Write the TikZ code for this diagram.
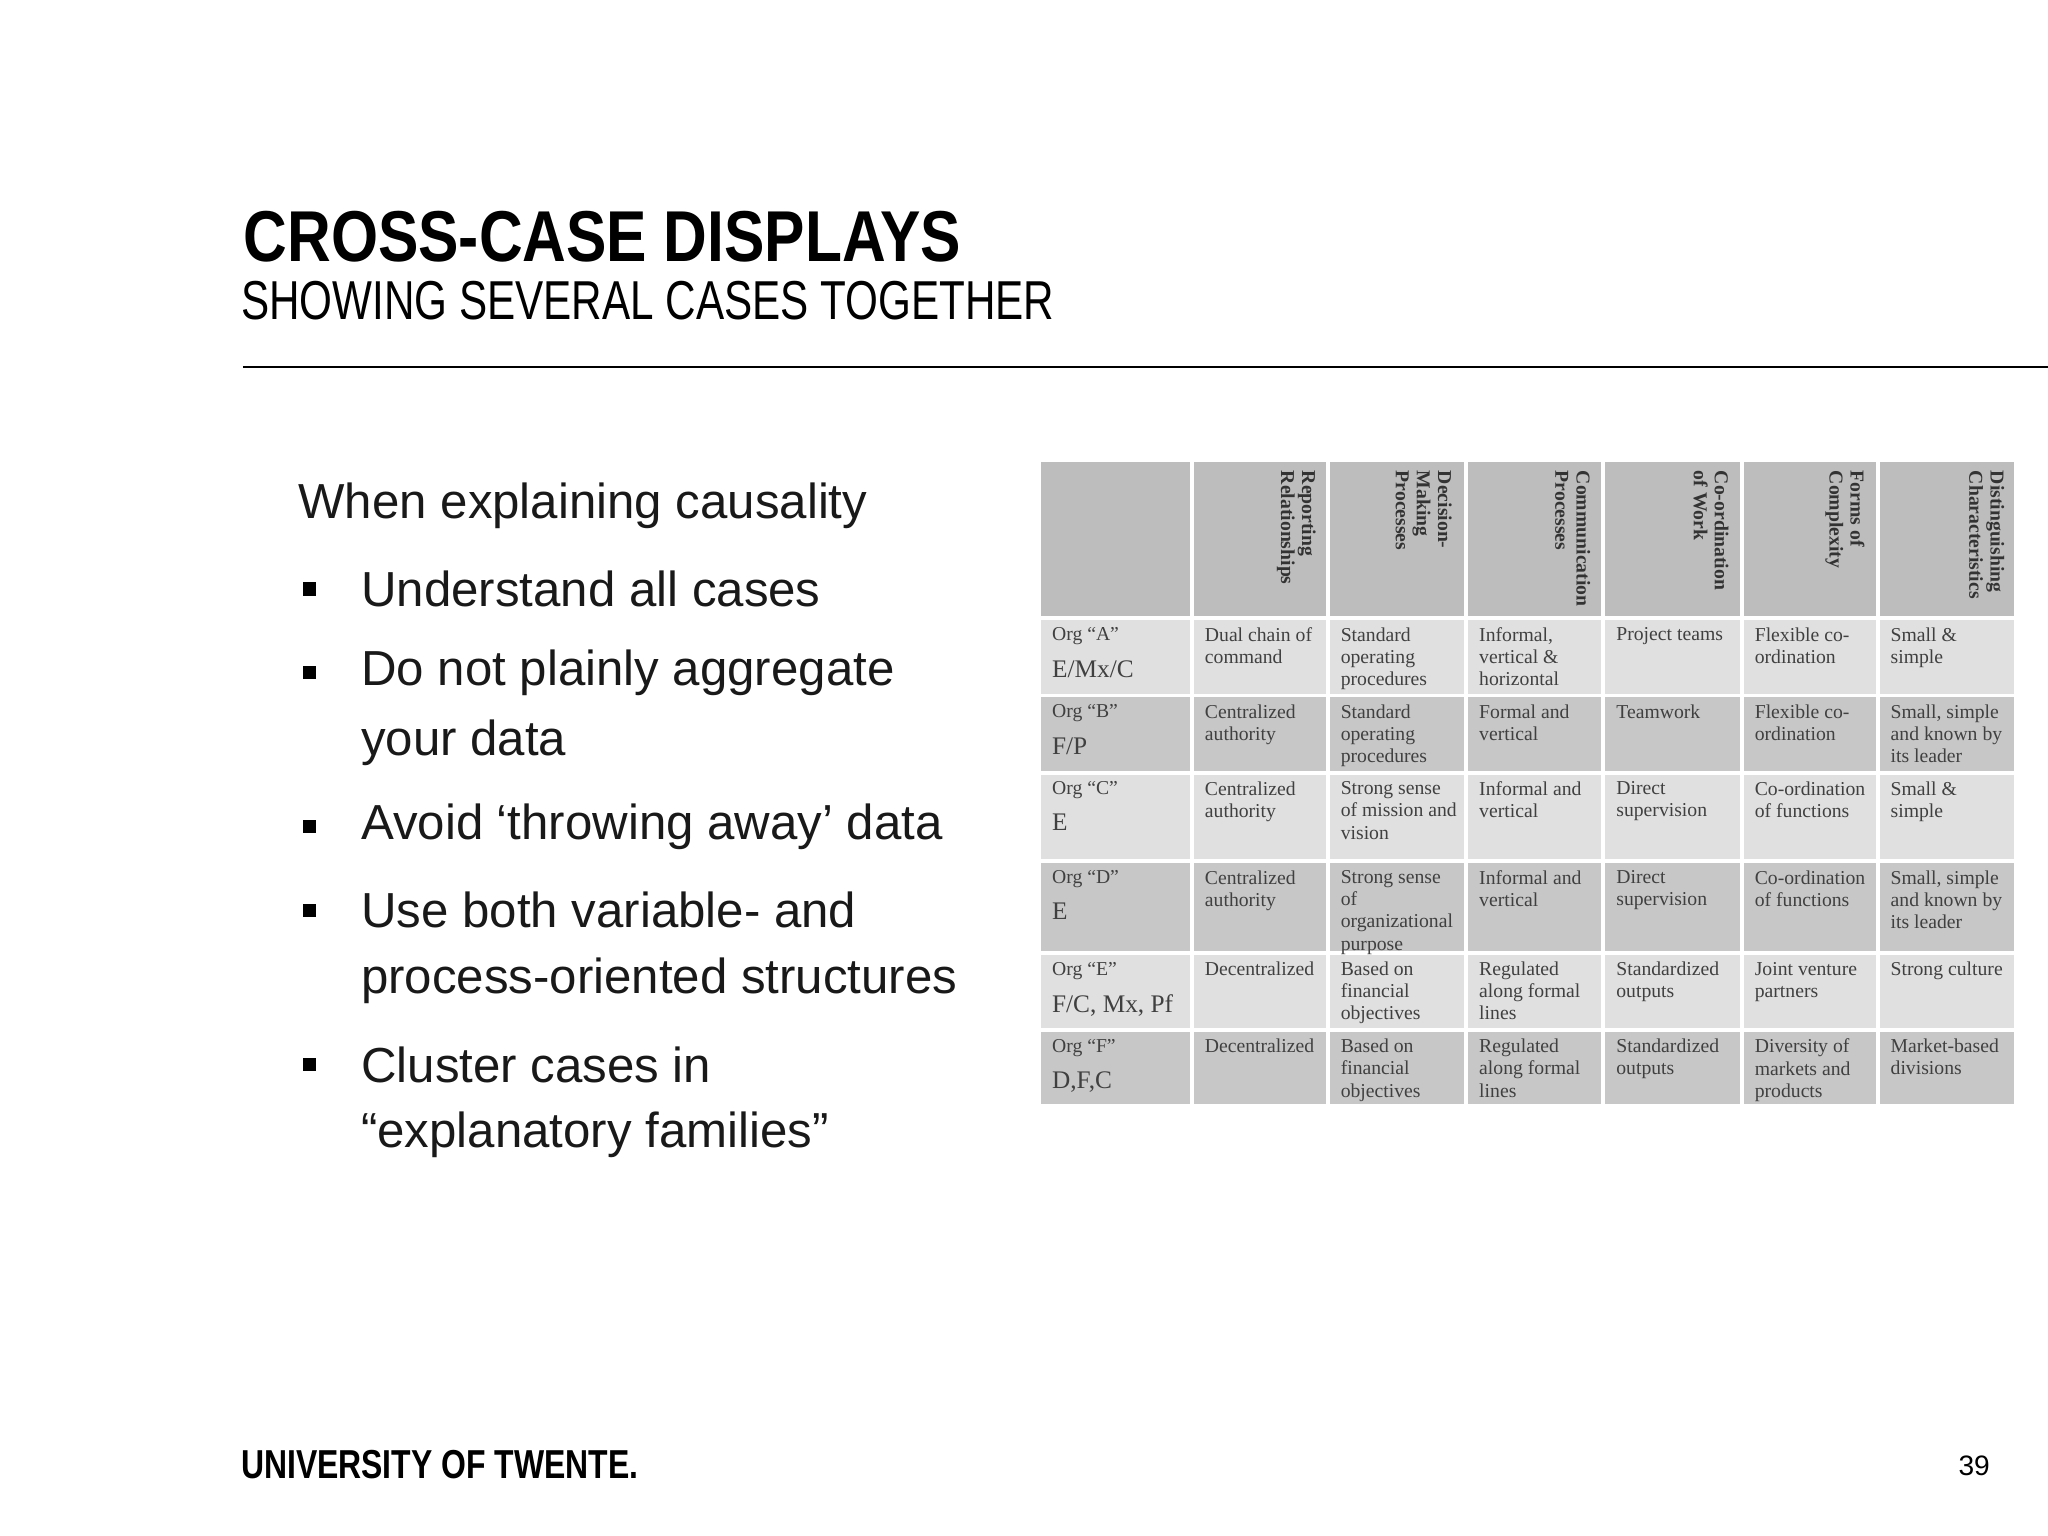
\documentclass[tikz,border=0pt]{standalone}
\usepackage{fontspec}
\setmainfont{Liberation Sans}
\newfontfamily\cond[FakeStretch=0.84]{Liberation Sans}
\newfontfamily\condb[FakeStretch=0.77]{Liberation Sans}
\newfontfamily\condc[FakeStretch=0.79]{Liberation Sans}
\newfontfamily\tser{Liberation Serif}
\begin{document}
\begin{tikzpicture}[x=0.013061cm,y=-0.013061cm,
  cell/.style={anchor=north west,inner sep=0pt,font=\tser\fontsize{5.6}{6.3}\selectfont,align=left,text=black!75},
  hdr/.style={anchor=north west,rotate=-90,inner sep=0pt,font=\tser\bfseries\fontsize{5.6}{6}\selectfont,align=left,text=black!80},
  bl/.style={anchor=west,inner sep=0pt,font=\fontsize{14}{16}\selectfont,text=black!90}]
\useasboundingbox (0,0) rectangle (1568,1176);
\node[anchor=base west,inner sep=0pt,font=\cond\bfseries\fontsize{20.5}{24}\selectfont] (t) at (186,200) {CROSS-CASE DISPLAYS};
\node[anchor=base west,inner sep=0pt,font=\condb\fontsize{15.6}{18}\selectfont] (st) at (184,245) {SHOWING SEVERAL CASES TOGETHER};
\coordinate (l1) at (186,281); \coordinate (l2) at (1568,281);
\draw[line width=0.8pt] (l1) -- (l2);
% body
\node[bl] (w) at (228,387) {When explaining causality};
\foreach \y/\t/\n in {451/Understand all cases/b1, 515/Do not plainly aggregate/b2, 569/your data/b3, 633/Avoid ‘throwing away’ data/b4, 697/Use both variable- and/b5, 751/process-oriented structures/b6, 815/Cluster cases in/b7, 869/“explanatory families”/b8}
  \node[bl] (\n) at (276,\y) {\t};
\foreach \y/\n in {451/s1,515/s2,633/s4,697/s5,815/s7}
  \node[fill=black,minimum size=3.8pt,inner sep=0pt] (\n) at (237,\y) {};
% table backgrounds
\def\cx{{797,914,1018,1124,1229,1335,1439,1545}}
\def\ry{{354,475,534,593,661,731,790,848}}
\foreach \r in {0,...,6}{
  \foreach \c in {0,...,6}{
    \pgfmathsetmacro\xa{\cx[\c]}\pgfmathsetmacro\xb{\cx[\c+1]-3}
    \pgfmathsetmacro\ya{\ry[\r]}\pgfmathsetmacro\yb{\ry[\r+1]-3}
    \pgfmathparse{int(\r==0?26:(mod(\r,2)==1?12:22))}
    \fill[black!\pgfmathresult] (\xa,\ya) rectangle (\xb,\yb);
  }}
% headers
\node[hdr] (h1) at (1008,360) {Reporting\\Relationships};
\node[hdr] (h2) at (1112,360) {Decision-\\Making\\Processes};
\node[hdr] (h3) at (1218,360) {Communication\\Processes};
\node[hdr] (h4) at (1324,360) {Co-ordination\\of Work};
\node[hdr] (h5) at (1428,360) {Forms of\\Complexity};
\node[hdr] (h6) at (1535,360) {Distinguishing\\Characteristics};
% first column
\foreach \y/\a/\b/\n in {480/A/E\slash Mx\slash C/ra, 539/B/F\slash P/rb, 598/C/E/rc, 666/D/E/rd, 736/E/{F/C, Mx, Pf}/re, 795/F/{D,F,C}/rf}{
  \node[cell] (\n1) at (805,\y) {Org “\a”};
  \node[cell,font=\tser\fontsize{7.2}{8}\selectfont] (\n2) at (805,\y+25) {\b};
}
\foreach \c/\t in {1/{Dual chain of\\command},2/{Standard\\operating\\procedures},3/{Informal,\\vertical \&\\horizontal},4/{Project teams},5/{Flexible co-\\ordination},6/{Small \&\\simple}}{
  \pgfmathsetmacro\xx{\cx[\c]+8}\node[cell] (a\c) at (\xx,480) {\t};}
\foreach \c/\t in {1/{Centralized\\authority},2/{Standard\\operating\\procedures},3/{Formal and\\vertical},4/{Teamwork},5/{Flexible co-\\ordination},6/{Small, simple\\and known by\\its leader}}{
  \pgfmathsetmacro\xx{\cx[\c]+8}\node[cell] (b\c) at (\xx,539) {\t};}
\foreach \c/\t in {1/{Centralized\\authority},2/{Strong sense\\of mission and\\vision},3/{Informal and\\vertical},4/{Direct\\supervision},5/{Co-ordination\\of functions},6/{Small \&\\simple}}{
  \pgfmathsetmacro\xx{\cx[\c]+8}\node[cell] (c\c) at (\xx,598) {\t};}
\foreach \c/\t in {1/{Centralized\\authority},2/{Strong sense\\of\\organizational\\purpose},3/{Informal and\\vertical},4/{Direct\\supervision},5/{Co-ordination\\of functions},6/{Small, simple\\and known by\\its leader}}{
  \pgfmathsetmacro\xx{\cx[\c]+8}\node[cell] (d\c) at (\xx,666) {\t};}
\foreach \c/\t in {1/{Decentralized},2/{Based on\\financial\\objectives},3/{Regulated\\along formal\\lines},4/{Standardized\\outputs},5/{Joint venture\\partners},6/{Strong culture}}{
  \pgfmathsetmacro\xx{\cx[\c]+8}\node[cell] (e\c) at (\xx,736) {\t};}
\foreach \c/\t in {1/{Decentralized},2/{Based on\\financial\\objectives},3/{Regulated\\along formal\\lines},4/{Standardized\\outputs},5/{Diversity of\\markets and\\products},6/{Market-based\\divisions}}{
  \pgfmathsetmacro\xx{\cx[\c]+8}\node[cell] (f\c) at (\xx,795) {\t};}
% footer
\node[anchor=west,inner sep=0pt,font=\condc\bfseries\fontsize{11.5}{13}\selectfont] (ut) at (184,1121) {UNIVERSITY OF TWENTE.};
\node[anchor=east,inner sep=0pt,font=\fontsize{8}{9}\selectfont] (pg) at (1524,1122) {39};
\end{tikzpicture}
\end{document}
